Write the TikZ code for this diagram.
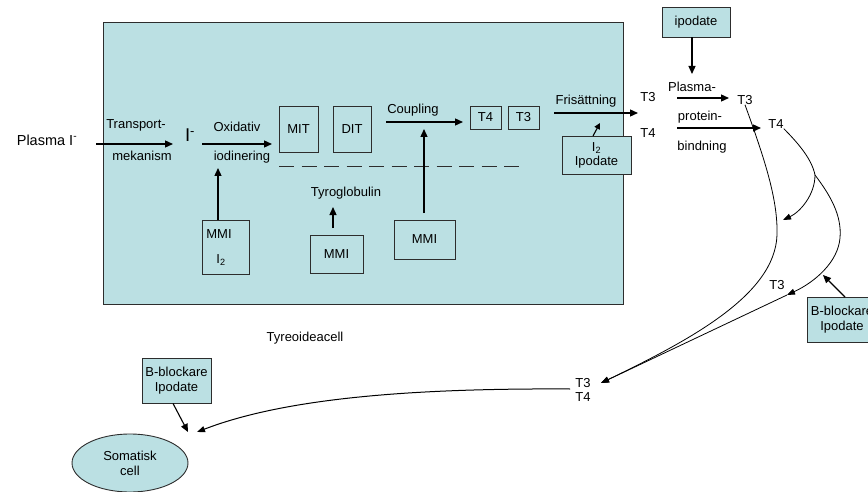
\documentclass[tikz,border=0pt]{standalone}
\usepackage{fontspec}
\setmainfont{Liberation Sans}
\usetikzlibrary{arrows.meta,shapes.geometric}
\definecolor{cellblue}{RGB}{187,224,227}
\definecolor{edgegray}{RGB}{45,45,45}
\begin{document}
\begin{tikzpicture}[x=1pt,y=-1pt,
  lbl/.style={font=\fontsize{13}{15}\selectfont, inner sep=0pt},
  box/.style={draw=edgegray, line width=0.9pt, inner sep=0pt, font=\fontsize{13}{15}\selectfont},
  fbox/.style={box, fill=cellblue, align=center},
  arr/.style={line width=1.3pt, -{Triangle[length=8pt,width=7pt]}},
  curv/.style={line width=0.8pt},
  carr/.style={curv, -{Triangle[length=8pt,width=6pt]}},
]
\useasboundingbox (0,0) rectangle (868,492);
\clip (0,0) rectangle (868,492);

% thyroid cell
\node[fbox, minimum width=520, minimum height=282, anchor=north west] (cell) at (103,22) {};
\node[lbl] (tyreo) at (305,338) {Tyreoideacell};

% uptake and iodination
\node[lbl, font=\fontsize{14.5}{16}\selectfont] (plasma) at (47,140) {Plasma I\textsuperscript{-}};
\node[lbl] (transp) at (136,125) {Transport-};
\node[lbl] (mek) at (142,156) {mekanism};
\node[lbl, font=\fontsize{18.5}{20}\selectfont] (iion) at (190,135) {I\textsuperscript{-}};
\node[lbl] (oxid) at (237,127) {Oxidativ};
\node[lbl] (iodin) at (242,157) {iodinering};
\coordinate (a1s) at (96,144);  \coordinate (a1e) at (173,144);
\coordinate (a2s) at (202,144); \coordinate (a2e) at (272,144);
\draw[arr] (a1s) -- (a1e);
\draw[arr] (a2s) -- (a2e);

% iodotyrosines and coupling
\node[box, minimum width=39, minimum height=46] (mit) at (298.5,129) {MIT};
\node[box, minimum width=38, minimum height=46] (dit) at (352,129) {DIT};
\node[lbl] (coupling) at (413,110) {Coupling};
\node[box, minimum width=31, minimum height=23] (t4box) at (485.5,117.5) {T4};
\node[box, minimum width=31, minimum height=23] (t3box) at (523.5,117.5) {T3};
\coordinate (cps) at (386,122); \coordinate (cpe) at (463,122);
\draw[arr] (cps) -- (cpe);

% membrane line
\coordinate (dl) at (279,166); \coordinate (dr) at (525,166);
\draw[edgegray, line width=0.9pt, dash pattern=on 15pt off 7.5pt] (dl) -- (dr);

% inhibitors inside the cell
\node[lbl] (tyro) at (346,193) {Tyroglobulin};
\node[box, minimum width=47, minimum height=54] (mmi1) at (225.5,247) {};
\node[lbl] at (219,234) {MMI};
\node[lbl] at (221,260) {I\textsubscript{2}};
\node[box, minimum width=53, minimum height=38] (mmi2) at (336.5,254) {MMI};
\node[box, minimum width=61, minimum height=39] (mmi3) at (424.5,239.5) {MMI};
\coordinate (m1t) at (218,220);  \coordinate (m1e) at (218,168);
\coordinate (m2t) at (333,228);  \coordinate (m2e) at (333,207);
\coordinate (m3t) at (424,213);  \coordinate (m3e) at (424,129);
\draw[arr] (m1t) -- (m1e);
\draw[arr] (m2t) -- (m2e);
\draw[arr] (m3t) -- (m3e);

% release
\node[lbl] (fris) at (586,101) {Frisättning};
\coordinate (frs) at (554,113); \coordinate (fre) at (638,113);
\draw[arr] (frs) -- (fre);
\node[fbox, minimum width=69, minimum height=38, font=\fontsize{13}{14}\selectfont] (i2ipo) at (596.5,155) {I\textsubscript{2}\\Ipodate};
\coordinate (ipe) at (600,123);
\draw[arr, line width=1.1pt, -{Triangle[length=6pt,width=6pt]}] (593,136) -- (ipe);
\node[lbl] (t3a) at (648,97) {T3};
\node[lbl] (t4a) at (648,133) {T4};

% plasma protein binding
\node[fbox, minimum width=68, minimum height=30] (ipod) at (696,22) {ipodate};
\coordinate (ipa) at (692,74);
\draw[arr] (ipod.south -| ipa) -- (ipa);
\node[lbl] (pl) at (692,87) {Plasma-};
\node[lbl] (pr) at (700,117) {protein-};
\node[lbl] (bi) at (702,147) {bindning};
\coordinate (p3s) at (677,98);  \coordinate (p3e) at (729,98);
\coordinate (p4s) at (677,128); \coordinate (p4e) at (761,128);
\draw[arr] (p3s) -- (p3e);
\draw[arr] (p4s) -- (p4e);
\node[lbl] (t3b) at (745,100) {T3};
\node[lbl] (t4b) at (776,124) {T4};

% peripheral conversion
\node[lbl] (t3c) at (777,285) {T3};
\node[fbox, minimum width=70, minimum height=45] (bbr) at (842,319.5) {B-blockare\\Ipodate};
\coordinate (bbra) at (823,275);
\draw[arr, line width=1.1pt] (845,297) -- (bbra);

\node[lbl] (t3d) at (583,383) {T3};
\node[lbl] (t4d) at (583,397) {T4};
\coordinate (tip) at (601,383);
\coordinate (split) at (815,175);
\coordinate (dtip) at (783,220);
\coordinate (ctip) at (787,295);

\draw[carr] (t3b.south) .. controls (765,160) and (778,200) .. (777,235)
  .. controls (775,295) and (690,340) .. (tip);
\draw[curv] (t4b.south east) .. controls (800,145) and (812,160) .. (split);
\draw[carr] (split) .. controls (815,195) and (800,212) .. (dtip);
\draw[carr] (split) .. controls (830,195) and (842,215) .. (840,238)
  .. controls (838,262) and (815,282) .. (ctip);
\draw[carr] (ctip) -- (tip);

% target tissue
\node[fbox, minimum width=69, minimum height=45] (bbl) at (176.5,380.5) {B-blockare\\Ipodate};
\node[fbox, ellipse, minimum width=116, minimum height=58] (soma) at (130,463) {Somatisk\\cell};
\coordinate (sa) at (188,432);
\coordinate (sb) at (197,432);
\coordinate (tt) at (570,389);
\draw[arr, line width=1.1pt] (bbl.south -| 173,0) -- (sa);
\draw[carr, line width=1pt] (tt) .. controls (400,388) and (280,400) .. (sb);
\end{tikzpicture}
\end{document}
